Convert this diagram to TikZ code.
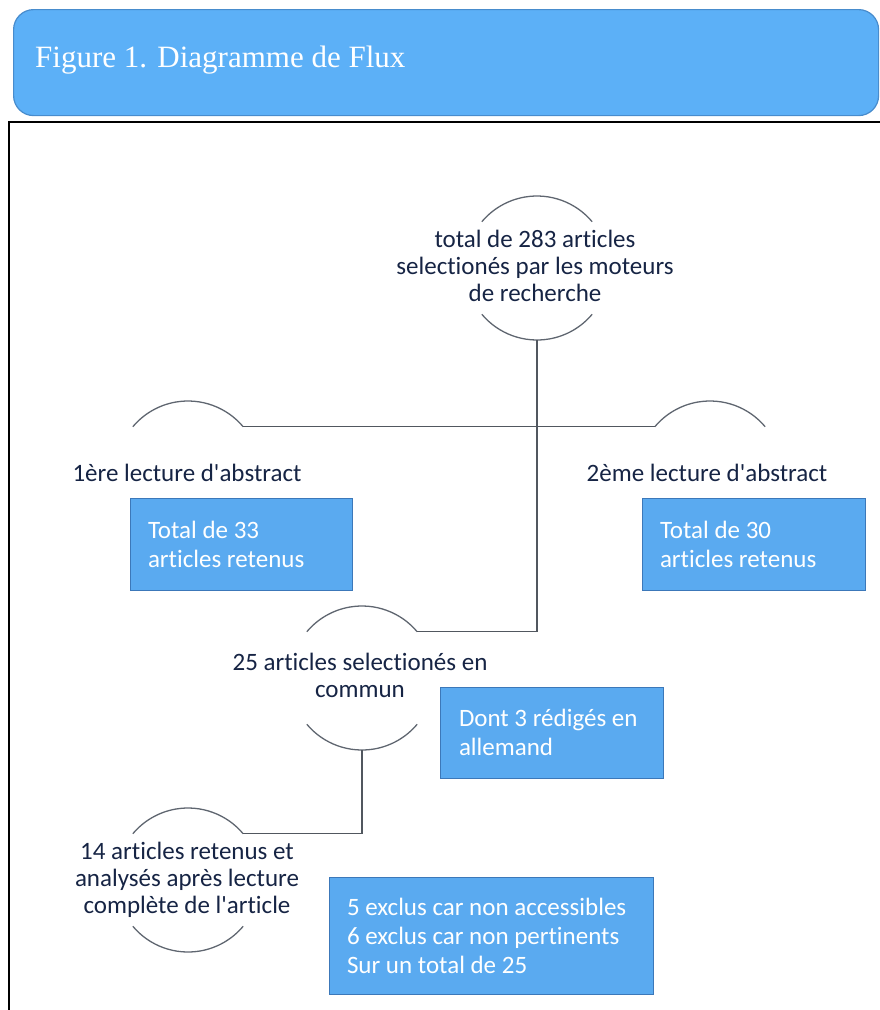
\documentclass[tikz,border=0pt]{standalone}
\usepackage{fontspec}
\setmainfont{Carlito}[Ligatures={TeXOff,NoCommon}]
\newfontfamily\titlefont{Liberation Serif}
\usetikzlibrary{calc}
\definecolor{hdrblue}{RGB}{92,176,247}
\definecolor{hdredge}{RGB}{72,140,205}
\definecolor{boxblue}{RGB}{90,170,240}
\definecolor{boxedge}{RGB}{60,120,185}
\definecolor{navy}{RGB}{22,36,68}
\definecolor{arcgrey}{RGB}{95,102,112}
\newcommand\toparc[1]{\draw[arcline] ($(#1)+(40:72pt)$) arc[start angle=40,end angle=140,radius=72pt];}
\newcommand\botarc[1]{\draw[arcline] ($(#1)+(220:72pt)$) arc[start angle=220,end angle=320,radius=72pt];}
\begin{document}
\begin{tikzpicture}[x=1pt,y=1pt,
  ctext/.style={text=navy, align=center, font=\fontsize{25}{27}\selectfont, inner sep=0pt},
  arcline/.style={draw=arcgrey, line width=1.3pt},
  link/.style={draw=arcgrey!85!black, line width=1.4pt},
  box/.style={fill=boxblue, draw=boxedge, line width=0.8pt, text=white, align=flush left,
    inner xsep=18pt, inner ysep=0pt, font=\fontsize{25}{29}\selectfont},
  header/.style={fill=hdrblue, draw=hdredge, line width=1.2pt, rounded corners=20pt}]
\useasboundingbox (0,0) rectangle (880,-1010);
% header
\node[header, minimum width=865pt, minimum height=106pt, anchor=north west, inner sep=0pt] (hdr) at (13,-9) {};
\node[anchor=base west, text=white, font=\titlefont\fontsize{31}{36}\selectfont, inner sep=0pt] (title) at (35,-67) {Figure 1. Diagramme de Flux};
% frame
\draw[line width=1.6pt] (9,-1010) -- (9,-122) -- (880,-122);
% circle centres
\coordinate (c1) at (537,-268);
\coordinate (c2) at (188,-473);
\coordinate (c4) at (710,-473);
\coordinate (c3) at (362,-678);
\coordinate (c5) at (188,-880);
% texts
\node[ctext] (t1) at (535,-266) {total de 283 articles\\selectionés par les moteurs\\de recherche};
\node[ctext] (t2) at (187,-473) {1ère lecture d'abstract};
\node[ctext] (t4) at (707,-473) {2ème lecture d'abstract};
\node[ctext] (t3) at (360,-675) {25 articles selectionés en\\commun};
\node[ctext] (t5) at (187,-880) {14 articles retenus et\\analysés après lecture\\complète de l'article};
% arcs
\toparc{c1}\botarc{c1}
\toparc{c2}
\toparc{c4}
\toparc{c3}\botarc{c3}
\toparc{c5}\botarc{c5}
% connector end points
\coordinate (c1s) at ($(c1)+(270:72pt)$);
\coordinate (c2e) at ($(c2)+(40:72pt)$);
\coordinate (c4w) at ($(c4)+(140:72pt)$);
\coordinate (c3e) at ($(c3)+(40:72pt)$);
\coordinate (c3s) at ($(c3)+(270:72pt)$);
\coordinate (c5e) at ($(c5)+(40:72pt)$);
\draw[link] (c2e) -- (c4w);
\draw[link] (c1s) |- (c3e);
\draw[link] (c3s) |- (c5e);
% boxes
\node[box, text width=186pt, minimum height=92pt] (b1) at (241,-544) {Total de 33\\articles retenus};
\node[box, text width=187pt, minimum height=92pt] (b2) at (753.5,-544) {Total de 30\\articles retenus};
\node[box, text width=185pt, inner xsep=19pt, minimum height=91pt] (b3) at (551.5,-732.5) {Dont 3 rédigés en\\allemand};
\node[box, text width=288pt, minimum height=117pt] (b4) at (491,-935.5) {5 exclus car non accessibles\\6 exclus car non pertinents\\Sur un total de 25};
\end{tikzpicture}
\end{document}
